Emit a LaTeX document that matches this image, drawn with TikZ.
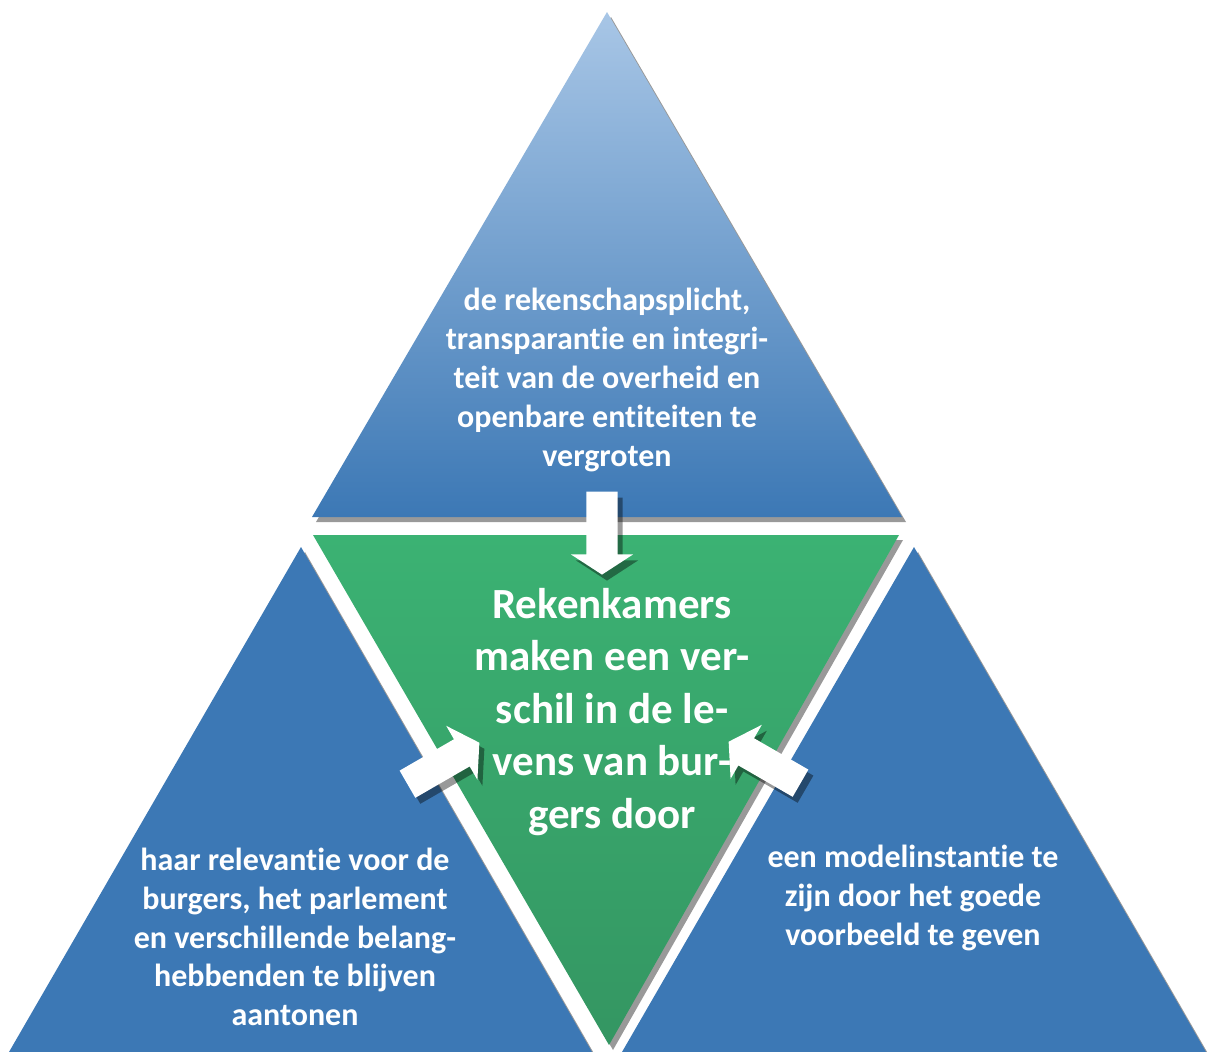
\documentclass[tikz,border=0pt]{standalone}
\usepackage{fontspec}
\setmainfont[Ligatures=NoCommon]{Carlito}
\usetikzlibrary{shapes.arrows}

\definecolor{lichtblauw}{RGB}{168,198,230}
\definecolor{blauw}{RGB}{60,120,181}
\definecolor{groen}{RGB}{59,178,115}
\definecolor{donkergroen}{RGB}{52,150,98}

\tikzset{
	schaduw/.style={fill=black,opacity=.4},
	tekst/.style={text=white,font=\bfseries\fontsize{32}{38.8}\selectfont,align=center},
	hoofdtekst/.style={text=white,font=\bfseries\fontsize{43}{52.5}\selectfont,align=center},
	pijl/.style={single arrow,fill=white,draw=none,inner xsep=0pt,inner ysep=15.5pt,
		minimum height=83pt,
		single arrow head extend=15.5pt,single arrow tip angle=114}
}

\begin{document}
\begin{tikzpicture}[x=1pt,y=-1pt]
	\useasboundingbox (0,0) rectangle (1208,1052);
	\clip (0,0) rectangle (1208,1052);
	%driehoek boven
	\fill[schaduw] (611,17) -- (906,522) -- (316,522) -- cycle;
	\shade[top color=lichtblauw,bottom color=blauw] (607,12) -- (902,517) -- (312,517) -- cycle;
	%driehoek midden
	\fill[schaduw] (317,540) -- (903,540) -- (613,1050) -- cycle;
	\shade[top color=groen,bottom color=donkergroen] (313,535) -- (899,535) -- (609,1045) -- cycle;
	%driehoeken onder
	\fill[schaduw] (305,552) -- (596,1057) -- (13,1057) -- cycle;
	\fill[blauw] (301,547) -- (592,1052) -- (9,1052) -- cycle;
	\fill[schaduw] (918,552) -- (1210,1057) -- (626,1057) -- cycle;
	\fill[blauw] (914,547) -- (1206,1052) -- (622,1052) -- cycle;
	%teksten
	\node[tekst] (boven) at (607,380) {de rekenschapsplicht,\\transparantie en integri-\\teit van de overheid en\\openbare entiteiten te\\vergroten};
	\node[hoofdtekst] (midden) at (612,712) {Rekenkamers\\maken een ver-\\schil in de le-\\vens van bur-\\gers door};
	\node[tekst] (links) at (295,937) {haar relevantie voor de\\burgers, het parlement\\en verschillende belang-\\hebbenden te blijven\\aantonen};
	\node[tekst] (rechts) at (913,898) {een modelinstantie te\\zijn door het goede\\voorbeeld te geven};
	%pijlen
	\node[pijl,schaduw,rotate=-90] (schaduwboven) at (607,534) {};
	\node[pijl,rotate=-90] (pijlboven) at (602,528) {};
	\node[pijl,schaduw,rotate=30] (schaduwlinks) at (444,772) {};
	\node[pijl,rotate=30] (pijllinks) at (439,766) {};
	\node[pijl,schaduw,rotate=150] (schaduwrechts) at (774,771) {};
	\node[pijl,rotate=150] (pijlrechts) at (769,765) {};
\end{tikzpicture}
\end{document}
